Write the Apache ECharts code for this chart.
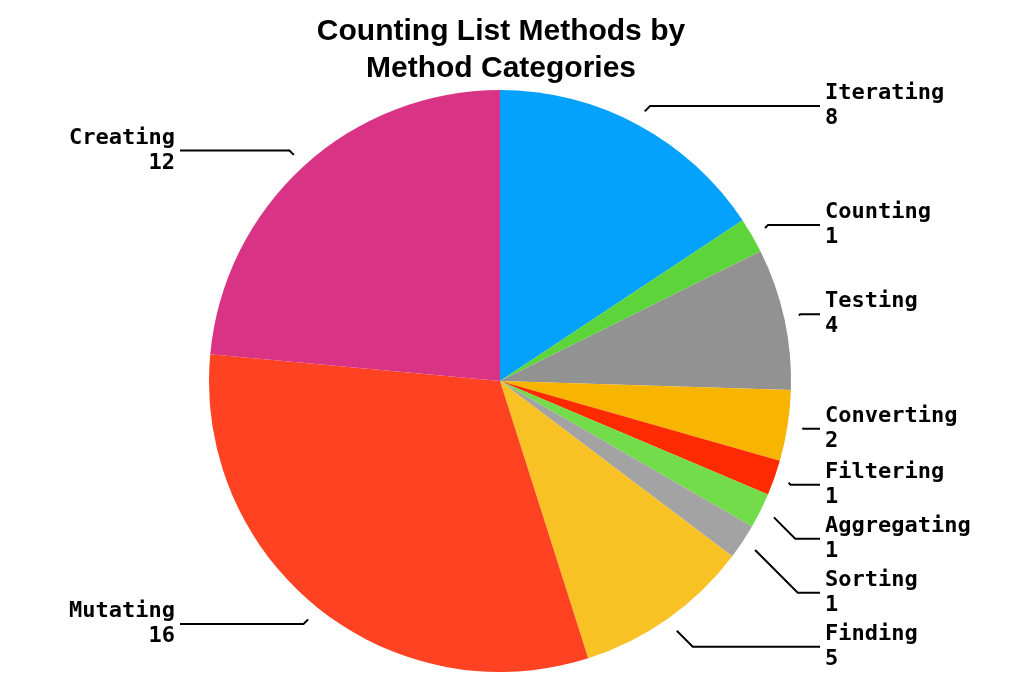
<!DOCTYPE html>
<html>
<head>
<meta charset="utf-8">
<script src="https://cdn.jsdelivr.net/npm/echarts@6/dist/echarts.min.js"></script>
<style>
  html, body { margin: 0; padding: 0; background: #fff; }
  #chart { width: 1024px; height: 696px; }
</style>
</head>
<body>
<div id="chart"></div>
<script>
// categories and counts, clockwise from 12 o'clock
const categories = ['Iterating', 'Counting', 'Testing', 'Converting', 'Filtering',
                    'Aggregating', 'Sorting', 'Finding', 'Mutating', 'Creating'];
const counts = [8, 1, 4, 2, 1, 1, 1, 5, 16, 12];
const colors = ['#04a1fd', '#5dd53a', '#929292', '#f7b500', '#fe2b00',
                '#72dc4b', '#a3a3a3', '#f8c124', '#fe4222', '#d93386'];

const chart = echarts.init(document.getElementById('chart'));

const CX = 500, CY = 381;
// label columns: right labels start here, left labels end here
const RIGHT_COL = 825, LEFT_COL = 175;

// visible slices
const sliceData = categories.map((name, i) => ({
    name: name,
    value: counts[i],
    itemStyle: { color: colors[i] }
}));

// transparent, slightly larger ring that only carries the labels
// (so leader lines start a little away from the pie edge)
const labelData = categories.map((name, i) => ({ name: name, value: counts[i] }));

const option = {
    animation: false,
    title: {
        text: 'Counting List Methods by\nMethod Categories',
        left: 496,
        textAlign: 'center',
        top: 8,
        textStyle: {
            fontFamily: 'Liberation Sans',
            fontSize: 30,
            fontWeight: 'bold',
            lineHeight: 37,
            color: '#000'
        }
    },
    series: [
        {
            type: 'pie',
            center: [CX, CY],
            radius: 291,
            startAngle: 90,
            clockwise: true,
            silent: true,
            label: { show: false },
            labelLine: { show: false },
            data: sliceData
        },
        {
            type: 'pie',
            center: [CX, CY],
            radius: 306,
            startAngle: 90,
            clockwise: true,
            silent: true,
            itemStyle: { color: 'rgba(0,0,0,0)' },
            label: {
                show: true,
                position: 'outside',
                formatter: '{b}\n{c}',
                fontFamily: 'DejaVu Sans Mono',
                fontWeight: 'bold',
                fontSize: 22,
                lineHeight: 25,
                padding: [1, 0, 1, 0],
                color: '#000'
            },
            labelLine: {
                show: true,
                length: 6,
                length2: 15,
                lineStyle: { color: '#000', width: 2 }
            },
            // line the labels up in two columns, keep the pie's own y placement;
            // leader line: 45° elbow from the slice to the label's row, then flat
            labelLayout: function (params) {
                const r = params.labelRect;
                const yc = r.y + r.height / 2;
                const pts = params.labelLinePoints;
                const right = pts ? pts[0][0] >= CX : r.x >= CX;
                const out = {
                    x: right ? RIGHT_COL : LEFT_COL,
                    y: yc,
                    align: right ? 'left' : 'right',
                    verticalAlign: 'middle'
                };
                if (pts) {
                    const p0 = pts[0];
                    const d = Math.abs(yc - p0[1]);
                    const p1 = [p0[0] + (right ? d : -d), yc];
                    const p2 = [right ? RIGHT_COL - 5 : LEFT_COL + 5, yc];
                    out.labelLinePoints = [p0, p1, p2];
                }
                return out;
            },
            data: labelData
        }
    ]
};

chart.setOption(option);
</script>
</body>
</html>
